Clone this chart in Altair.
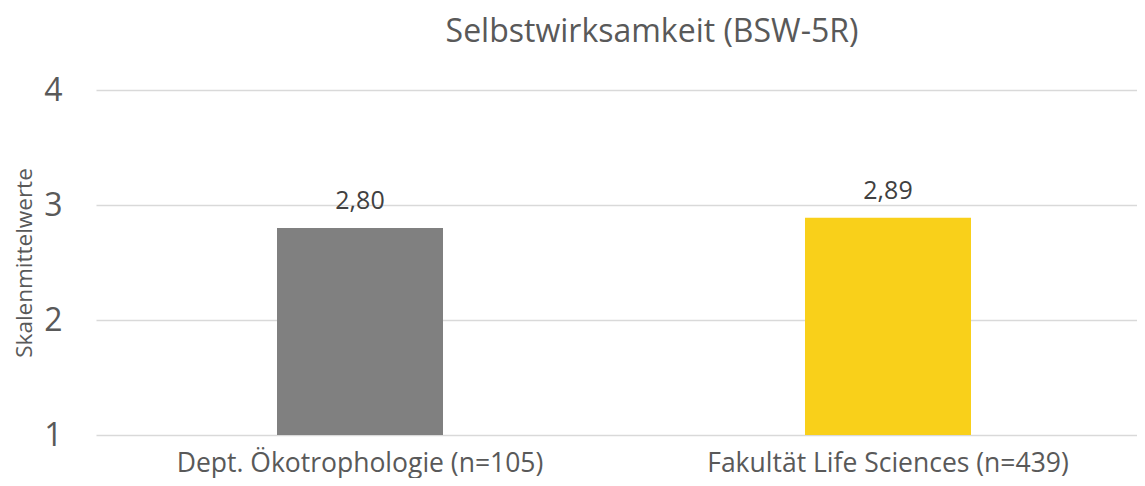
import altair as alt
import pandas as pd

categories = ["Dept. Ökotrophologie (n=105)", "Fakultät Life Sciences (n=439)"]
values = [2.80, 2.89]
labels = ["2,80", "2,89"]
colors = ["#808080", "#F9D01A"]
baseline_value = 1

df = pd.DataFrame({"cat": categories, "val": values, "lab": labels})

FONT = "Open Sans"

x = alt.X("cat:N", sort=categories, title=None,
          scale=alt.Scale(range=[0, 1056], paddingInner=0.6856, paddingOuter=0.3428),
          axis=alt.Axis(labelAngle=0, labelFontSize=26.5, labelColor="#595959", labelFont=FONT,
                        labelLimit=0, ticks=False, domain=False, labelPadding=15))

bars = alt.Chart(df).mark_bar().encode(
    x=x,
    y=alt.Y("val:Q", title="Skalenmittelwerte",
            scale=alt.Scale(domain=[1, 4], nice=False, zero=False),
            axis=alt.Axis(values=[1, 2, 3, 4], format="d", labelFontSize=32, labelColor="#595959",
                          labelFont=FONT, ticks=False, domain=False, labelPadding=34,
                          gridColor="#D9D9D9", gridWidth=1.5, titleFont=FONT, titleFontSize=22.5,
                          titleColor="#595959", titleFontWeight="normal", titlePadding=7)),
    y2=alt.datum(baseline_value),
    color=alt.Color("cat:N", scale=alt.Scale(domain=categories, range=colors), legend=None),
)

text = alt.Chart(df).mark_text(baseline="bottom", dy=-14, fontSize=25, font=FONT, color="#404040").encode(
    x=alt.X("cat:N", sort=categories),
    y="val:Q",
    text="lab:N",
)

chart = (bars + text).properties(
    width=1040,
    height=345,
    autosize=alt.AutoSizeParams(type="none"),
    padding={"left": 88, "top": 82, "right": 1, "bottom": 43},
    title=alt.TitleParams("Selbstwirksamkeit (BSW-5R)", font=FONT, fontSize=32, color="#595959",
                          fontWeight="normal", dx=36, offset=25),
).configure_view(stroke=None)

chart.save("out.html", embed_options={"renderer": "svg", "actions": False})
